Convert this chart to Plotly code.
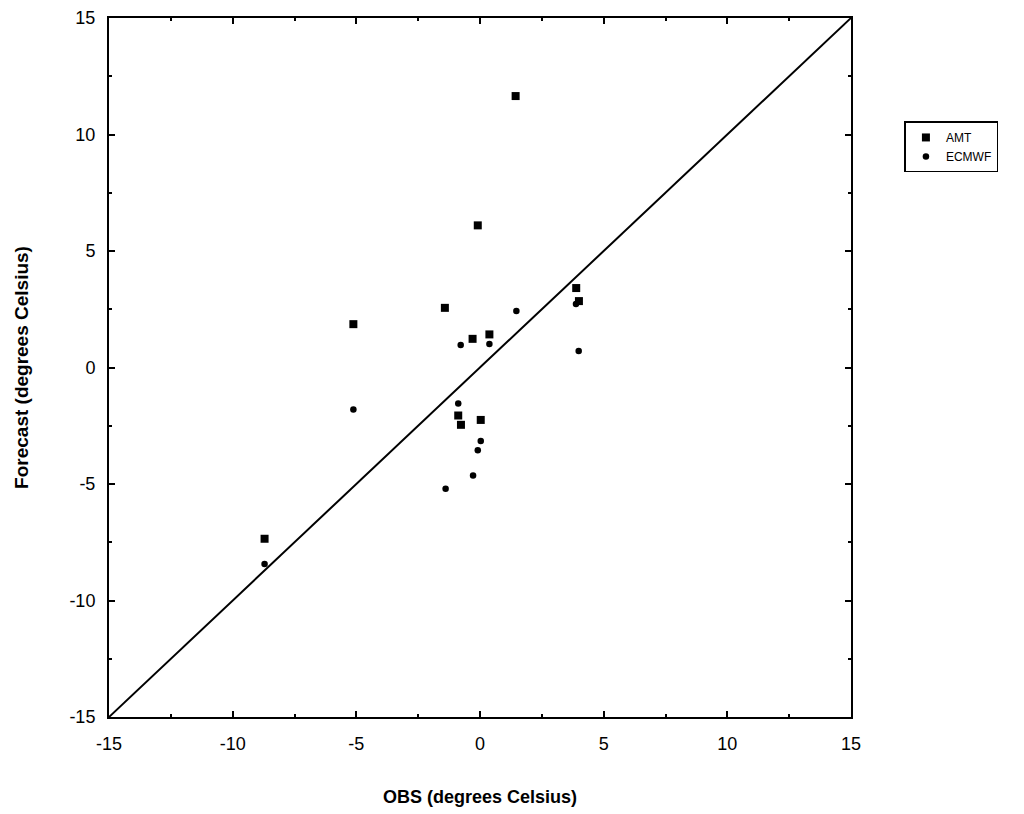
import plotly.graph_objects as go

# AMT forecasts (squares)
amt_obs = [1.44, -0.09, -1.42, -0.30, 0.38, 3.89, 4.00, -0.88, -0.77, 0.03, -5.12, -8.71]
amt_fc = [11.65, 6.10, 2.56, 1.23, 1.42, 3.41, 2.85, -2.06, -2.46, -2.25, 1.86, -7.35]

# ECMWF forecasts (circles)
ec_obs = [1.47, -0.78, 0.38, 3.88, 3.99, -0.88, 0.03, -0.09, -0.28, -1.39, -5.12, -8.71]
ec_fc = [2.43, 0.97, 1.01, 2.73, 0.71, -1.55, -3.15, -3.55, -4.64, -5.20, -1.80, -8.43]

# perfect-forecast diagonal
diag = [-15, 15]

tick_vals = [-15, -10, -5, 0, 5, 10, 15]
tick_text = ["-15", "-10", "-5", "0", "5", "10", "15"]

FONT = "Liberation Sans, Arial, sans-serif"

fig = go.Figure()
fig.add_trace(go.Scatter(x=diag, y=diag, mode="lines",
                         line=dict(color="black", width=2), showlegend=False,
                         hoverinfo="skip"))
fig.add_trace(go.Scatter(x=amt_obs, y=amt_fc, mode="markers", name="AMT",
                         marker=dict(symbol="square", size=8, color="black")))
fig.add_trace(go.Scatter(x=ec_obs, y=ec_fc, mode="markers", name="ECMWF",
                         marker=dict(symbol="circle", size=6.5, color="black")))

axis_common = dict(
    range=[-15, 15], tickmode="array", tickvals=tick_vals, ticktext=tick_text,
    ticks="inside", ticklen=6, tickwidth=1.5, tickcolor="black",
    minor=dict(dtick=2.5, ticks="inside", ticklen=3, tickcolor="black", tickwidth=1.5),
    showline=True, linecolor="black", linewidth=2, mirror="ticks",
    showgrid=False, zeroline=False, automargin=False,
    tickfont=dict(family=FONT, size=18, color="black"),
)

fig.update_layout(
    width=1016, height=806,
    margin=dict(l=101, r=173, t=9.5, b=97),
    paper_bgcolor="white", plot_bgcolor="white",
    font=dict(family=FONT, color="black"),
    xaxis=dict(**axis_common,
               ticklabelstandoff=9,
               title=dict(text="<b>OBS (degrees Celsius)</b>",
                          font=dict(family=FONT, size=18, color="black"),
                          standoff=38)),
    yaxis=dict(**axis_common,
               ticklabelstandoff=8,
               title=dict(text="<b>Forecast (degrees Celsius)</b>",
                          font=dict(family=FONT, size=19, color="black"),
                          standoff=36)),
    legend=dict(x=1.072, y=0.852, xanchor="left", yanchor="top",
                bordercolor="black", borderwidth=1.5, bgcolor="white",
                font=dict(family=FONT, size=12, color="black"),
                itemwidth=30, tracegroupgap=0),
    showlegend=True,
)

fig.write_html("out.html")
